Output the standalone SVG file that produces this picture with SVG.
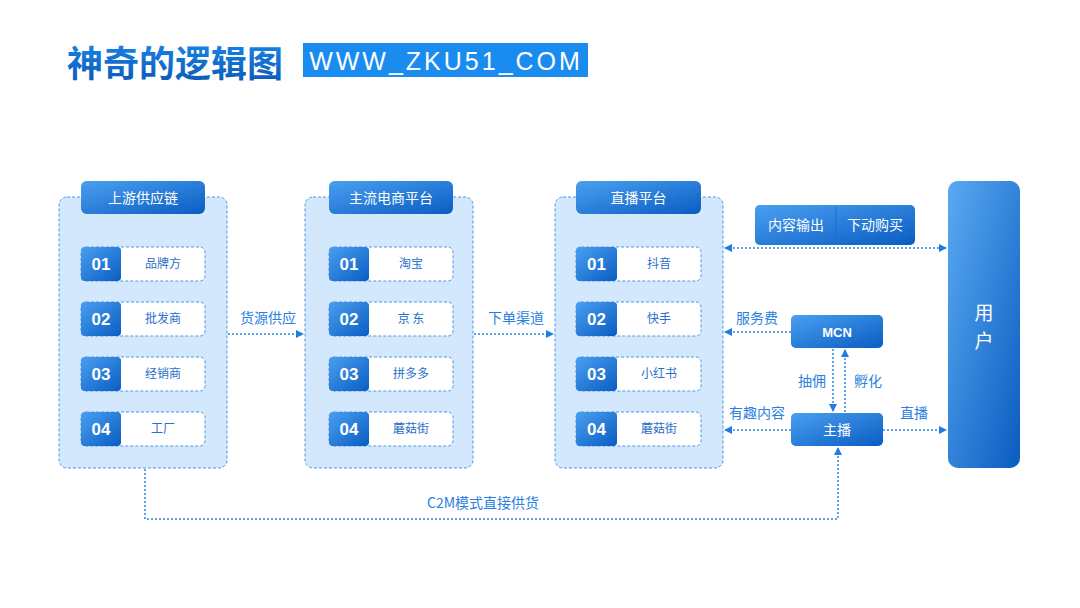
<svg xmlns="http://www.w3.org/2000/svg" width="1080" height="608" viewBox="0 0 1080 608">
<defs>
<linearGradient id="gBlue" x1="0" y1="0" x2="1" y2="1">
<stop offset="0" stop-color="#4a9ff0"/>
<stop offset="1" stop-color="#0a5dc2"/>
</linearGradient>
<linearGradient id="gUser" x1="0" y1="0" x2="1" y2="1">
<stop offset="0" stop-color="#5aaaf2"/>
<stop offset="1" stop-color="#0a5cc0"/>
</linearGradient>
<linearGradient id="gTitle" x1="0" y1="0" x2="0" y2="1">
<stop offset="0" stop-color="#1a8cf0"/>
<stop offset="1" stop-color="#0a56b0"/>
</linearGradient>
<filter id="glow" x="-30%" y="-40%" width="160%" height="180%">
<feGaussianBlur in="SourceAlpha" stdDeviation="3"/>
<feOffset dx="0" dy="1"/>
<feFlood flood-color="#3a8ee8" flood-opacity="0.55"/>
<feComposite operator="in" in2="SourceAlpha"/>
<feMerge><feMergeNode/><feMergeNode in="SourceGraphic"/></feMerge>
</filter>
<marker id="ah" viewBox="0 0 8 8" refX="7" refY="4" markerWidth="8" markerHeight="8" markerUnits="userSpaceOnUse" orient="auto-start-reverse">
<path d="M0,0 L8,4 L0,8 z" fill="#1e7ee0"/>
</marker>
</defs>
<style>
.panel{fill:#d4e8fd;stroke:#4a98e6;stroke-width:1;stroke-dasharray:3 2}
.hdr{fill:url(#gBlue)}
.hdrt{font-family:"Noto Sans CJK SC","Noto Sans",sans-serif;font-size:14px;fill:#fff;text-anchor:middle}
.item{fill:#fff;stroke:#4a98e6;stroke-width:1;stroke-dasharray:3 2}
.num{fill:url(#gBlue)}
.numt{font-family:"Liberation Sans","Noto Sans",sans-serif;font-weight:bold;font-size:17px;fill:#fff;text-anchor:middle}
.itemt{font-family:"Noto Sans CJK SC",sans-serif;font-size:12px;fill:#2a6fc9;text-anchor:middle}
.conn{fill:none;stroke:#2a86e6;stroke-width:1.5;stroke-dasharray:2 2}
.lbl{font-family:"Noto Sans CJK SC",sans-serif;font-size:14px;fill:#2a7fe0;text-anchor:middle}
.wt{font-family:"Noto Sans CJK SC","Noto Sans",sans-serif;font-size:14px;fill:#fff;text-anchor:middle}
</style>
<rect width="1080" height="608" fill="#fff"/>
<g id="title">
<text x="67" y="77" font-family="Noto Sans CJK SC,sans-serif" font-weight="bold" font-size="36" fill="url(#gTitle)">神奇的逻辑图</text>
<rect x="303" y="43" width="285" height="34" fill="#1a8cf0"/>
<text x="446" y="70" font-family="Liberation Sans,Arial,sans-serif" font-size="25" fill="#fff" text-anchor="middle" letter-spacing="3">WWW_ZKU51_COM</text>
</g>
<g id="connectors">
<line class="conn" x1="228" y1="334" x2="303" y2="334" marker-end="url(#ah)"/>
<line class="conn" x1="474" y1="334" x2="553" y2="334" marker-end="url(#ah)"/>
<line class="conn" x1="725" y1="248" x2="946" y2="248" marker-start="url(#ah)" marker-end="url(#ah)"/>
<line class="conn" x1="791" y1="332" x2="725" y2="332" marker-end="url(#ah)"/>
<line class="conn" x1="791" y1="430" x2="725" y2="430" marker-end="url(#ah)"/>
<line class="conn" x1="883" y1="430" x2="946" y2="430" marker-end="url(#ah)"/>
<line class="conn" x1="833" y1="349" x2="833" y2="411" marker-end="url(#ah)"/>
<line class="conn" x1="845" y1="412" x2="845" y2="350" marker-end="url(#ah)"/>
<polyline class="conn" points="145,469 145,519 838,519 838,448" marker-end="url(#ah)"/>
<text class="lbl" x="268" y="323">货源供应</text>
<text class="lbl" x="516" y="323">下单渠道</text>
<text class="lbl" x="757" y="323">服务费</text>
<text class="lbl" x="757" y="418">有趣内容</text>
<text class="lbl" x="914" y="418">直播</text>
<text class="lbl" x="812" y="386">抽佣</text>
<text class="lbl" x="868" y="386">孵化</text>
<text class="lbl" x="483" y="508" font-size="13">C2M模式直接供货</text>
</g>
<g id="panel1">
<rect class="panel" x="59" y="197" width="168" height="271" rx="8"/>
<rect class="hdr" x="81" y="181" width="124" height="33" rx="6" filter="url(#glow)"/>
<text class="hdrt" x="143" y="203">上游供应链</text>
</g>
<g id="p1-01"><rect class="item" x="81" y="247" width="124" height="34" rx="5"/><rect class="num" x="81" y="247" width="40" height="34" rx="4" filter="url(#glow)"/><text class="numt" x="101" y="270">01</text><text class="itemt" x="163" y="268">品牌方</text></g>
<g id="p1-02"><rect class="item" x="81" y="302" width="124" height="34" rx="5"/><rect class="num" x="81" y="302" width="40" height="34" rx="4" filter="url(#glow)"/><text class="numt" x="101" y="325">02</text><text class="itemt" x="163" y="323">批发商</text></g>
<g id="p1-03"><rect class="item" x="81" y="357" width="124" height="34" rx="5"/><rect class="num" x="81" y="357" width="40" height="34" rx="4" filter="url(#glow)"/><text class="numt" x="101" y="380">03</text><text class="itemt" x="163" y="378">经销商</text></g>
<g id="p1-04"><rect class="item" x="81" y="412" width="124" height="34" rx="5"/><rect class="num" x="81" y="412" width="40" height="34" rx="4" filter="url(#glow)"/><text class="numt" x="101" y="435">04</text><text class="itemt" x="163" y="433">工厂</text></g>
<g id="panel2">
<rect class="panel" x="305" y="197" width="168" height="271" rx="8"/>
<rect class="hdr" x="329" y="181" width="124" height="33" rx="6" filter="url(#glow)"/>
<text class="hdrt" x="391" y="203">主流电商平台</text>
</g>
<g id="p2-01"><rect class="item" x="329" y="247" width="124" height="34" rx="5"/><rect class="num" x="329" y="247" width="40" height="34" rx="4" filter="url(#glow)"/><text class="numt" x="349" y="270">01</text><text class="itemt" x="411" y="268">淘宝</text></g>
<g id="p2-02"><rect class="item" x="329" y="302" width="124" height="34" rx="5"/><rect class="num" x="329" y="302" width="40" height="34" rx="4" filter="url(#glow)"/><text class="numt" x="349" y="325">02</text><text class="itemt" x="411" y="323">京 东</text></g>
<g id="p2-03"><rect class="item" x="329" y="357" width="124" height="34" rx="5"/><rect class="num" x="329" y="357" width="40" height="34" rx="4" filter="url(#glow)"/><text class="numt" x="349" y="380">03</text><text class="itemt" x="411" y="378">拼多多</text></g>
<g id="p2-04"><rect class="item" x="329" y="412" width="124" height="34" rx="5"/><rect class="num" x="329" y="412" width="40" height="34" rx="4" filter="url(#glow)"/><text class="numt" x="349" y="435">04</text><text class="itemt" x="411" y="433">蘑菇街</text></g>
<g id="panel3">
<rect class="panel" x="555" y="197" width="168" height="271" rx="8"/>
<rect class="hdr" x="576" y="181" width="125" height="33" rx="6" filter="url(#glow)"/>
<text class="hdrt" x="638.5" y="203">直播平台</text>
</g>
<g id="p3-01"><rect class="item" x="576" y="247" width="125" height="34" rx="5"/><rect class="num" x="576" y="247" width="41" height="34" rx="4" filter="url(#glow)"/><text class="numt" x="596.5" y="270">01</text><text class="itemt" x="659" y="268">抖音</text></g>
<g id="p3-02"><rect class="item" x="576" y="302" width="125" height="34" rx="5"/><rect class="num" x="576" y="302" width="41" height="34" rx="4" filter="url(#glow)"/><text class="numt" x="596.5" y="325">02</text><text class="itemt" x="659" y="323">快手</text></g>
<g id="p3-03"><rect class="item" x="576" y="357" width="125" height="34" rx="5"/><rect class="num" x="576" y="357" width="41" height="34" rx="4" filter="url(#glow)"/><text class="numt" x="596.5" y="380">03</text><text class="itemt" x="659" y="378">小红书</text></g>
<g id="p3-04"><rect class="item" x="576" y="412" width="125" height="34" rx="5"/><rect class="num" x="576" y="412" width="41" height="34" rx="4" filter="url(#glow)"/><text class="numt" x="596.5" y="435">04</text><text class="itemt" x="659" y="433">蘑菇街</text></g>
<g id="content">
<rect x="755" y="205" width="160" height="40" rx="5" fill="url(#gBlue)" filter="url(#glow)"/>
<line x1="836" y1="207" x2="836" y2="243" stroke="#1a6fd6" stroke-width="1"/>
<text class="wt" x="796" y="230">内容输出</text>
<text class="wt" x="875" y="230">下动购买</text>
</g>
<g id="mcn">
<rect x="791" y="315" width="92" height="33" rx="5" fill="url(#gBlue)" filter="url(#glow)"/>
<text x="837" y="337" font-family="Liberation Sans,Arial,sans-serif" font-weight="bold" font-size="13" fill="#fff" text-anchor="middle">MCN</text>
</g>
<g id="anchor">
<rect x="791" y="413" width="92" height="33" rx="5" fill="url(#gBlue)" filter="url(#glow)"/>
<text class="wt" x="837" y="435">主播</text>
</g>
<g id="user">
<rect x="948" y="181" width="72" height="287" rx="10" fill="url(#gUser)" filter="url(#glow)"/>
<text x="984" y="320" font-family="Noto Sans CJK SC,sans-serif" font-size="19" fill="#fff" text-anchor="middle">用</text>
<text x="984" y="348" font-family="Noto Sans CJK SC,sans-serif" font-size="19" fill="#fff" text-anchor="middle">户</text>
</g>
</svg>
